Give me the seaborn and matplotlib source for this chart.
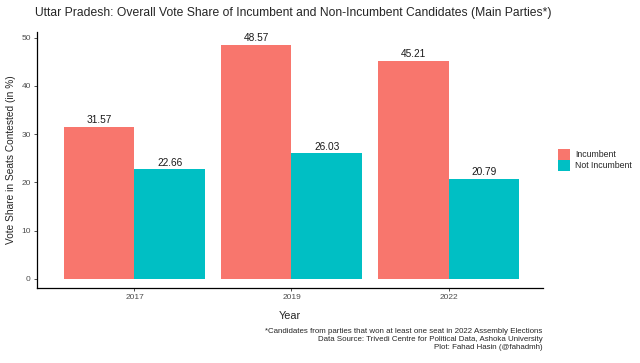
import matplotlib
matplotlib.use("Agg")
import matplotlib.pyplot as plt
import seaborn as sns
import pandas as pd

years = ["2017", "2019", "2022"]
incumbent = [31.57, 48.57, 45.21]
not_incumbent = [22.66, 26.03, 20.79]
groups = ["Incumbent", "Not Incumbent"]
colors = ["#F8766D", "#00BFC4"]

df = pd.DataFrame({
    "Year": years * 2,
    "Share": incumbent + not_incumbent,
    "Status": [groups[0]] * 3 + [groups[1]] * 3,
})

sns.set_style("white")
plt.rcParams["font.family"] = ["Liberation Sans", "DejaVu Sans"]

fig = plt.figure(figsize=(6.4, 3.63), dpi=100)
ax = fig.add_axes([0.058, 0.207, 0.79, 0.705])
sns.barplot(data=df, x="Year", y="Share", hue="Status", palette=colors,
            width=0.9, gap=0, saturation=1, ax=ax, errorbar=None,
            linewidth=0, edgecolor="none")

for cont in ax.containers:
    ax.bar_label(cont, fmt="%.2f", padding=1, fontsize=7.3, color="#1a1a1a")

ax.set_xlim(-0.62, 2.6)
ax.set_ylim(-1.9, 51.2)
ax.set_yticks([0, 10, 20, 30, 40, 50])
ax.tick_params(axis="both", labelsize=6, labelcolor="#4d4d4d", length=2.5,
               width=0.6, color="#333333", left=True, bottom=True, pad=2)
for s in ["top", "right"]:
    ax.spines[s].set_visible(False)
for s in ["left", "bottom"]:
    ax.spines[s].set_color("black")
    ax.spines[s].set_linewidth(0.9)

ax.set_xlabel("Year", fontsize=7.8, labelpad=7)
ax.set_ylabel("Vote Share in Seats Contested (in %)", fontsize=7.3, labelpad=4)

ax.legend(title=None, loc="center left", bbox_to_anchor=(1.0, 0.5), frameon=False,
          fontsize=6.3, handlelength=1.45, handleheight=1.45, labelspacing=0.08,
          handletextpad=0.55, borderaxespad=1.3)

fig.text(0.055, 0.964, "Uttar Pradesh: Overall Vote Share of Incumbent and Non-Incumbent Candidates (Main Parties*)",
         fontsize=8.7, ha="left", va="center")
fig.text(0.848, 0.066, "*Candidates from parties that won at least one seat in 2022 Assembly Elections\n"
         "Data Source: Trivedi Centre for Political Data, Ashoka University\n"
         "Plot: Fahad Hasin (@fahadmh)",
         fontsize=5.7, ha="right", va="center", linespacing=1.2)

fig.savefig("out.png", dpi=100)
